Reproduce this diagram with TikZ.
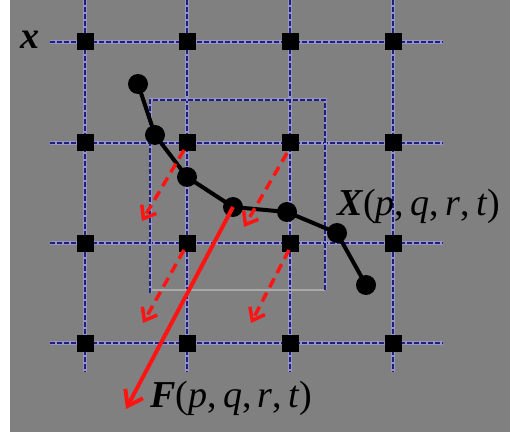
\documentclass[tikz,border=0pt]{standalone}
\usepackage{fontspec}
\setmainfont{Liberation Serif}
\usetikzlibrary{arrows.meta}
\definecolor{bg}{RGB}{128,128,128}
\definecolor{bandcol}{RGB}{150,148,198}
\definecolor{dashcol}{RGB}{30,30,125}
\definecolor{faint}{RGB}{170,170,170}
\definecolor{arr}{RGB}{255,20,20}
\tikzset{
  gridband/.style={line width=4pt, color=bandcol},
  griddash/.style={line width=1.3pt, color=dashcol, dash pattern=on 5pt off 2pt},
  sq/.style={fill=black, minimum size=17pt, inner sep=0pt, outer sep=0pt},
  ball/.style={circle, fill=black, minimum size=20pt, inner sep=0pt},
  chain/.style={line width=4pt, black},
  fmain/.style={line width=4pt, color=arr, -{Straight Barb[length=14pt,width=20pt,line width=4pt]}},
  fdash/.style={line width=3.5pt, color=arr, dash pattern=on 10pt off 6pt, -{Straight Barb[length=11pt,width=17pt,line width=3.5pt]}},
  lab/.style={font=\fontsize{38}{40}\selectfont, inner sep=0pt, anchor=base west}
}
\begin{document}
\begin{tikzpicture}[x=1pt,y=-1pt]
\useasboundingbox (0,0) rectangle (510,435);
\fill[white] (0,0) rectangle (510,435);
\fill[bg] (10,0) rectangle (510,432);
% grid
\foreach \x in {85,187,290,393} {
  \draw[gridband] (\x,0) -- (\x,372);
  \draw[griddash] (\x,0) -- (\x,372);
}
\foreach \y in {42,143,243,343} {
  \draw[gridband] (50,\y) -- (443,\y);
  \draw[griddash] (50,\y) -- (443,\y);
}
% inner rectangle
\draw[faint, line width=1.2pt] (150,290) -- (325,290);
\draw[gridband, line width=3pt] (150,293) -- (150,100) -- (325,100) -- (325,290);
\draw[griddash] (150,293) -- (150,100) -- (325,100) -- (325,290);
% squares
\foreach \x [count=\i] in {85,187,290,393} {
  \foreach \y [count=\j] in {42,143,243,343} {
    \node[sq] (s\i\j) at (\x,\y) {};
  }
}
% chain
\node[ball] (c1) at (138,84) {};
\node[ball] (c2) at (155,135) {};
\node[ball] (c3) at (187,177) {};
\node[ball] (c4) at (233,207) {};
\node[ball] (c5) at (287,212) {};
\node[ball] (c6) at (337,233) {};
\node[ball] (c7) at (366,285) {};
\draw[chain] (c1.center) -- (c2.center) -- (c3.center) -- (c4.center) -- (c5.center) -- (c6.center) -- (c7.center);
% arrows
\coordinate (a1s) at (184,150); \coordinate (a1e) at (142,221);
\coordinate (a2s) at (287,153); \coordinate (a2e) at (244,227);
\coordinate (a3s) at (184,250); \coordinate (a3e) at (143,323);
\coordinate (a4s) at (289,250); \coordinate (a4e) at (251,323);
\coordinate (fe) at (126,409);
\draw[fdash] (a1s) -- (a1e);
\draw[fdash] (a2s) -- (a2e);
\draw[fdash] (a3s) -- (a3e);
\draw[fdash] (a4s) -- (a4e);
\draw[fmain] (c4.center) -- (fe);
% labels
\node[lab] (lx) at (20,49) {\textbf{\textit{x}}};
\node[lab] (lX) at (337,215) {\textbf{\textit{X}}(\textit{p},\,\textit{q},\,\textit{r},\,\textit{t})};
\node[lab] (lF) at (150,407) {\textbf{\textit{F}}(\textit{p},\,\textit{q},\,\textit{r},\,\textit{t})};
\end{tikzpicture}
\end{document}
